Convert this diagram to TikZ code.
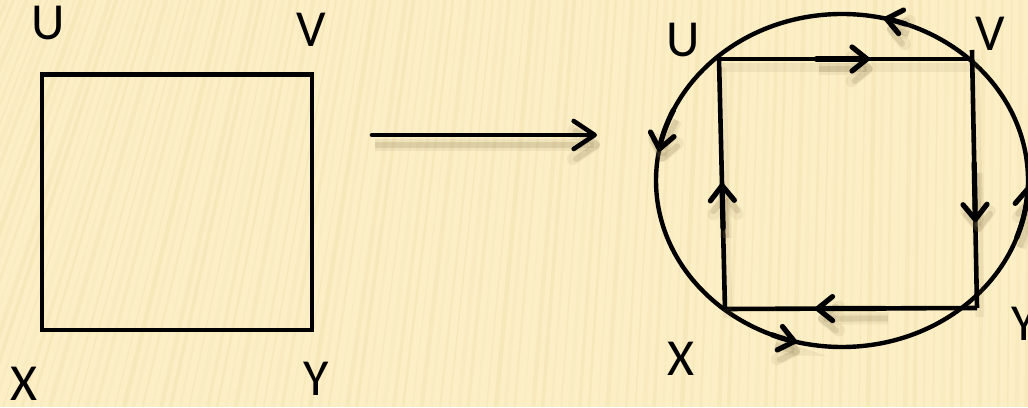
\documentclass[tikz,border=0pt]{standalone}
\usepackage{fontspec}
\setmainfont{Carlito}
\usetikzlibrary{arrows.meta,calc}
\definecolor{bgc}{HTML}{FCEFC6}
\definecolor{stripe}{HTML}{EEDBA6}
\definecolor{shad}{HTML}{8F7B55}
\begin{document}
\begin{tikzpicture}[x=1pt,y=1pt,
  lbl/.style={inner sep=0pt, font=\fontsize{52}{52}\selectfont},
  edge/.style={line width=4.6pt, line join=miter},
  shadowed/.style={preaction={draw=shad, opacity=0.10, line width=12pt, transform canvas={shift={(3pt,-10pt)}}},
                   preaction={draw=shad, opacity=0.20, line width=6pt, transform canvas={shift={(3pt,-10pt)}}}},
  lightshadow/.style={preaction={draw=shad, opacity=0.10, line width=9pt, transform canvas={shift={(3pt,-9pt)}}}},
  chev/.tip={Straight Barb[length=15pt,width=24pt,round]},
  emk/.style={line width=5.2pt, line cap=round, -{chev}},
]
\useasboundingbox (0,0) rectangle (1028,407);
% background
\fill[bgc] (0,0) rectangle (1028,407);
\begin{scope}
\clip (0,0) rectangle (1028,407);
\foreach \i in {0,...,135} {
  \pgfmathsetmacro\xx{-220+\i*9.3}
  \pgfmathsetmacro\kk{0.38*(max(0,1-(\xx+120)/1148))^2+0.01}
  \pgfmathsetmacro\op{0.15+0.25*mod(\i*7,5)/5}
  \pgfmathsetmacro\lw{1.5+mod(\i*3,4)}
  \draw[stripe, opacity=\op, line width=\lw pt] (\xx,0) -- ({\xx+407*\kk},407);
}
\end{scope}
% left square
\coordinate (U1) at (42,332.5);
\coordinate (V1) at (312,332.5);
\coordinate (Y1) at (312,77);
\coordinate (X1) at (42,77);
\draw[edge] (U1) -- (V1) -- (Y1) -- (X1) -- cycle;
\node[lbl] (lU1) at (48,384) {U};
\node[lbl] (lV1) at (311.5,377) {V};
\node[lbl] (lX1) at (23.5,23) {X};
\node[lbl] (lY1) at (316.5,28.5) {Y};
% middle arrow
\coordinate (A0) at (372,272);
\coordinate (A1) at (597,272);
\draw[edge, line cap=round, shadowed, -{Straight Barb[length=21pt,width=28pt,round]}] (A0) -- (A1);
% right figure
\coordinate (Ec) at (842,226.5);
\draw[line width=4.4pt] (Ec) ellipse [x radius=186, y radius=166.5];
\coordinate (U2) at (719,348);
\coordinate (V2) at (973,348);
\coordinate (Vt) at (972,357);
\coordinate (Y2) at (977,99);
\coordinate (X2) at (725,98);
\draw[edge, lightshadow] (U2) -- (V2);
\draw[edge, lightshadow] (Vt) -- (Y2);
\draw[edge] (Y2) -- (X2);
\draw[edge, lightshadow] (X2) -- (U2);
% edge marks
\path (U2) -- (V2) coordinate[pos=0.383] (m1a) coordinate[pos=0.593] (m1b);
\path (Vt) -- (Y2) coordinate[pos=0.438] (m2a) coordinate[pos=0.667] (m2b);
\path (Y2) -- (X2) coordinate[pos=0.365] (m3a) coordinate[pos=0.643] (m3b);
\path (X2) -- (U2) coordinate[pos=0.324] (m4a) coordinate[pos=0.504] (m4b);
\draw[emk, shadowed] (m1a) -- (m1b);
\draw[emk, shadowed] (m2a) -- (m2b);
\draw[emk, shadowed] (m3a) -- (m3b);
\draw[emk, shadowed] (m4a) -- (m4b);
% ellipse marks
\coordinate (c1a) at ($(Ec)+(70:186 and 166.5)$);
\coordinate (c2a) at ($(Ec)+(155:186 and 166.5)$);
\coordinate (c3a) at ($(Ec)+(248:186 and 166.5)$);
\coordinate (c4a) at ($(Ec)+(-20:186 and 166.5)$);
\draw[emk, shadowed] (c1a) arc[start angle=70, end angle=77, x radius=186, y radius=166.5];
\draw[emk, shadowed] (c2a) arc[start angle=155, end angle=170, x radius=186, y radius=166.5];
\draw[emk, shadowed] (c3a) arc[start angle=248, end angle=256, x radius=186, y radius=166.5];
\draw[emk, shadowed] (c4a) arc[start angle=-20, end angle=-2, x radius=186, y radius=166.5];
% right labels
\node[lbl] (lU2) at (683,367) {U};
\node[lbl] (lV2) at (990,373) {V};
\node[lbl] (lX2) at (681,48) {X};
\node[lbl] (lY2) at (1024,83) {Y};
\end{tikzpicture}
\end{document}
